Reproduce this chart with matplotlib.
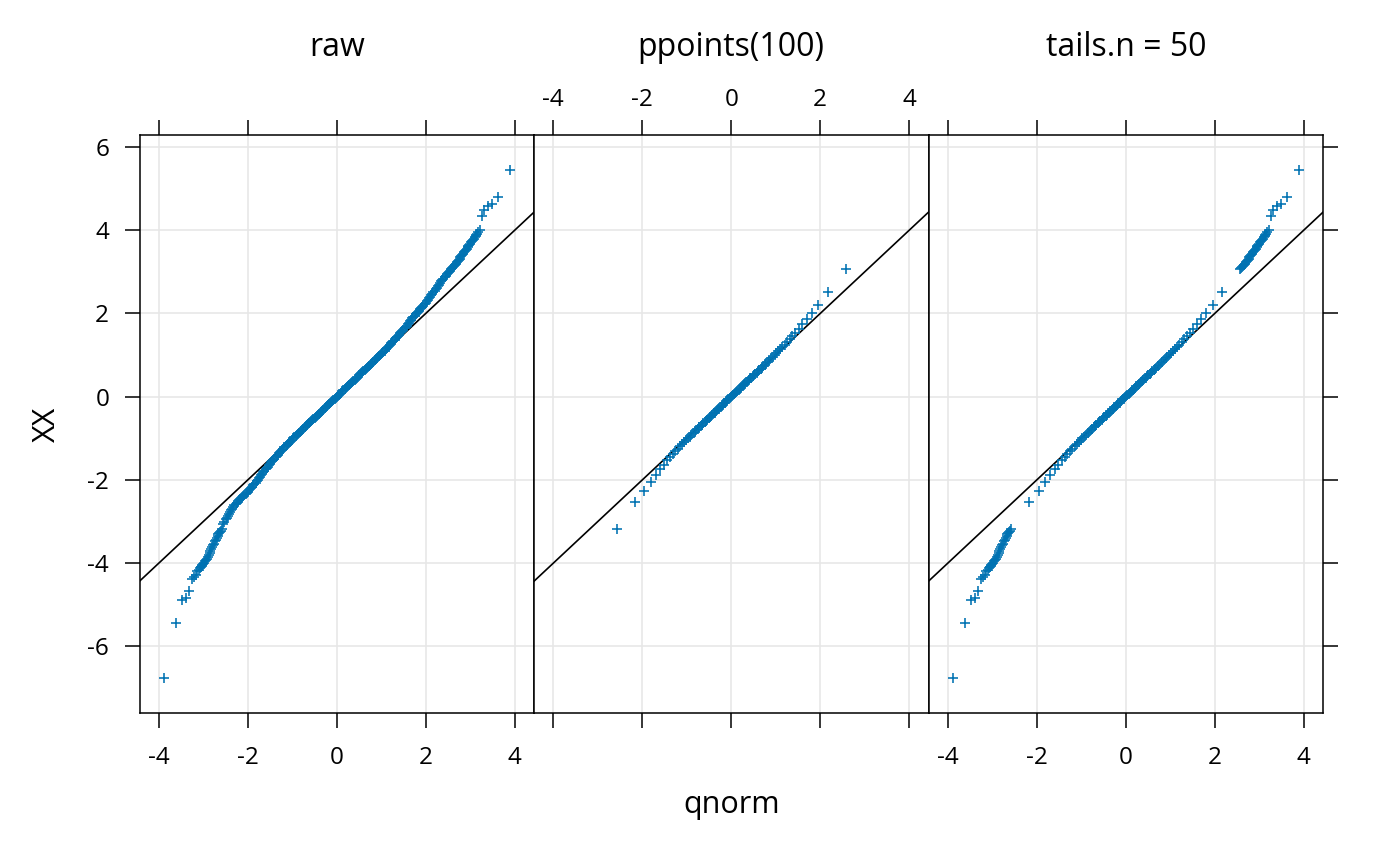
import matplotlib
matplotlib.use("Agg")
from matplotlib import pyplot as plt

plt.rcParams['font.family'] = ['Open Sans', 'DejaVu Sans']
plt.rcParams['axes.unicode_minus'] = False

# 50 lowest / highest sample values (shared by "raw" and "tails.n = 50")
lower_tail_x = [-3.89, -3.615, -3.48, -3.39, -3.32, -3.26, -3.21, -3.17, -3.14,
                -3.105, -3.08, -3.06, -3.04, -3.02, -3.00, -2.98, -2.96, -2.94,
                -2.92, -2.90, -2.88, -2.86, -2.84, -2.82, -2.80, -2.78, -2.76,
                -2.74, -2.72, -2.70, -2.68, -2.66, -2.64, -2.62, -2.60, -2.58]
lower_tail_y = [-6.76, -5.44, -4.89, -4.85, -4.67, -4.38, -4.34, -4.28, -4.19,
                -4.17, -4.12, -4.09, -4.06, -4.04, -4.02, -3.99, -3.96, -3.92,
                -3.89, -3.85, -3.80, -3.75, -3.71, -3.66, -3.62, -3.57, -3.53,
                -3.48, -3.44, -3.39, -3.35, -3.31, -3.28, -3.25, -3.22, -3.18]

upper_tail_x = [2.58, 2.60, 2.62, 2.64, 2.66, 2.68, 2.70, 2.72, 2.74, 2.76,
                2.78, 2.80, 2.82, 2.84, 2.86, 2.88, 2.90, 2.92, 2.94, 2.96,
                2.98, 3.00, 3.02, 3.04, 3.06, 3.08, 3.10, 3.12, 3.14, 3.16,
                3.18, 3.21, 3.26, 3.32, 3.39, 3.48, 3.615, 3.89]
upper_tail_y = [3.06, 3.09, 3.12, 3.14, 3.17, 3.20, 3.23, 3.26, 3.29, 3.32,
                3.35, 3.38, 3.41, 3.44, 3.47, 3.50, 3.53, 3.56, 3.59, 3.62,
                3.65, 3.68, 3.71, 3.74, 3.77, 3.80, 3.83, 3.86, 3.89, 3.92,
                3.97, 4.01, 4.34, 4.48, 4.59, 4.64, 4.79, 5.44]

# body of the raw sample (dense band)
raw_mid_x = [
    -2.550, -2.525, -2.500, -2.475, -2.450, -2.425, -2.400, -2.375, -2.350, -2.325,
    -2.300, -2.275, -2.250, -2.225, -2.200, -2.175, -2.150, -2.125, -2.100, -2.075,
    -2.050, -2.025, -2.000, -1.975, -1.950, -1.925, -1.900, -1.875, -1.850, -1.825,
    -1.800, -1.775, -1.750, -1.725, -1.700, -1.675, -1.650, -1.625, -1.600, -1.575,
    -1.550, -1.525, -1.500, -1.475, -1.450, -1.425, -1.400, -1.375, -1.350, -1.325,
    -1.300, -1.275, -1.250, -1.225, -1.200, -1.175, -1.150, -1.125, -1.100, -1.075,
    -1.050, -1.025, -1.000, -0.975, -0.950, -0.925, -0.900, -0.875, -0.850, -0.825,
    -0.800, -0.775, -0.750, -0.725, -0.700, -0.675, -0.650, -0.625, -0.600, -0.575,
    -0.550, -0.525, -0.500, -0.475, -0.450, -0.425, -0.400, -0.375, -0.350, -0.325,
    -0.300, -0.275, -0.250, -0.225, -0.200, -0.175, -0.150, -0.125, -0.100, -0.075,
    -0.050, -0.025, 0.000, 0.025, 0.050, 0.075, 0.100, 0.125, 0.150, 0.175,
    0.200, 0.225, 0.250, 0.275, 0.300, 0.325, 0.350, 0.375, 0.400, 0.425,
    0.450, 0.475, 0.500, 0.525, 0.550, 0.575, 0.600, 0.625, 0.650, 0.675,
    0.700, 0.725, 0.750, 0.775, 0.800, 0.825, 0.850, 0.875, 0.900, 0.925,
    0.950, 0.975, 1.000, 1.025, 1.050, 1.075, 1.100, 1.125, 1.150, 1.175,
    1.200, 1.225, 1.250, 1.275, 1.300, 1.325, 1.350, 1.375, 1.400, 1.425,
    1.450, 1.475, 1.500, 1.525, 1.550, 1.575, 1.600, 1.625, 1.650, 1.675,
    1.700, 1.725, 1.750, 1.775, 1.800, 1.825, 1.850, 1.875, 1.900, 1.925,
    1.950, 1.975, 2.000, 2.025, 2.050, 2.075, 2.100, 2.125, 2.150, 2.175,
    2.200, 2.225, 2.250, 2.275, 2.300, 2.325, 2.350, 2.375, 2.400, 2.425,
    2.450, 2.475, 2.500, 2.525, 2.550]
raw_mid_y = [
    -3.05, -3.00, -2.95, -2.905, -2.86, -2.815, -2.77, -2.73, -2.69, -2.65,
    -2.61, -2.58, -2.55, -2.52, -2.49, -2.46, -2.43, -2.405, -2.38, -2.355,
    -2.33, -2.305, -2.28, -2.25, -2.22, -2.19, -2.16, -2.13, -2.10, -2.065,
    -2.03, -1.995, -1.96, -1.925, -1.89, -1.855, -1.82, -1.785, -1.75, -1.715,
    -1.68, -1.645, -1.61, -1.58, -1.55, -1.52, -1.49, -1.455, -1.42, -1.39,
    -1.36, -1.335, -1.31, -1.28, -1.25, -1.22, -1.19, -1.165, -1.14, -1.115,
    -1.09, -1.06, -1.03, -1.00, -0.98, -0.95, -0.92, -0.895, -0.87, -0.845,
    -0.82, -0.795, -0.77, -0.74, -0.71, -0.685, -0.66, -0.635, -0.61, -0.585,
    -0.56, -0.535, -0.51, -0.485, -0.46, -0.435, -0.41, -0.385, -0.36, -0.335,
    -0.31, -0.28, -0.25, -0.225, -0.20, -0.175, -0.15, -0.125, -0.10, -0.075,
    -0.05, -0.025, 0.00, 0.025, 0.05, 0.075, 0.10, 0.125, 0.15, 0.175,
    0.20, 0.23, 0.26, 0.285, 0.31, 0.335, 0.36, 0.385, 0.41, 0.435,
    0.46, 0.485, 0.51, 0.535, 0.56, 0.585, 0.61, 0.635, 0.66, 0.69,
    0.72, 0.745, 0.77, 0.795, 0.82, 0.845, 0.87, 0.895, 0.92, 0.95,
    0.98, 1.005, 1.03, 1.055, 1.08, 1.11, 1.14, 1.165, 1.19, 1.22,
    1.25, 1.28, 1.31, 1.34, 1.37, 1.40, 1.43, 1.46, 1.49, 1.52,
    1.55, 1.58, 1.61, 1.645, 1.68, 1.71, 1.74, 1.775, 1.81, 1.845,
    1.88, 1.915, 1.95, 1.98, 2.01, 2.04, 2.07, 2.10, 2.13, 2.16,
    2.19, 2.225, 2.26, 2.295, 2.33, 2.365, 2.40, 2.44, 2.48, 2.515,
    2.55, 2.585, 2.62, 2.655, 2.69, 2.73, 2.77, 2.805, 2.84, 2.875,
    2.91, 2.94, 2.97, 3.00, 3.03]

# sample quantiles at ppoints(100)
pp_x = [-2.576, -2.170, -1.960, -1.812, -1.695, -1.598, -1.514, -1.440, -1.372, -1.311,
        -1.254, -1.200, -1.150, -1.103, -1.058, -1.015, -0.974, -0.935, -0.896, -0.860,
        -0.824, -0.789, -0.755, -0.722, -0.690, -0.659, -0.628, -0.598, -0.568, -0.539,
        -0.510, -0.482, -0.454, -0.426, -0.399, -0.372, -0.345, -0.319, -0.292, -0.266,
        -0.240, -0.215, -0.189, -0.164, -0.138, -0.113, -0.088, -0.063, -0.038, -0.013,
        0.013, 0.038, 0.063, 0.088, 0.113, 0.138, 0.164, 0.189, 0.215, 0.240,
        0.266, 0.292, 0.319, 0.345, 0.372, 0.399, 0.426, 0.454, 0.482, 0.510,
        0.539, 0.568, 0.598, 0.628, 0.659, 0.690, 0.722, 0.755, 0.789, 0.824,
        0.860, 0.896, 0.935, 0.974, 1.015, 1.058, 1.103, 1.150, 1.200, 1.254,
        1.311, 1.372, 1.440, 1.514, 1.598, 1.695, 1.812, 1.960, 2.170, 2.576]
pp_y = [-3.17, -2.52, -2.26, -2.04, -1.88, -1.75, -1.63, -1.53, -1.45, -1.37,
        -1.31, -1.25, -1.19, -1.14, -1.09, -1.04, -1.00, -0.96, -0.92, -0.88,
        -0.84, -0.80, -0.77, -0.73, -0.70, -0.67, -0.64, -0.61, -0.58, -0.55,
        -0.52, -0.49, -0.46, -0.43, -0.40, -0.38, -0.35, -0.32, -0.29, -0.27,
        -0.24, -0.22, -0.19, -0.16, -0.14, -0.11, -0.09, -0.06, -0.04, -0.01,
        0.01, 0.04, 0.07, 0.09, 0.12, 0.14, 0.17, 0.19, 0.22, 0.25,
        0.27, 0.30, 0.33, 0.35, 0.38, 0.41, 0.44, 0.46, 0.49, 0.52,
        0.55, 0.58, 0.61, 0.64, 0.67, 0.70, 0.74, 0.77, 0.81, 0.84,
        0.88, 0.92, 0.96, 1.00, 1.04, 1.09, 1.14, 1.19, 1.25, 1.31,
        1.38, 1.45, 1.53, 1.62, 1.74, 1.87, 2.02, 2.20, 2.51, 3.07]

line_intercept = 0.0
line_slope = 1.0

titles = ["raw", "ppoints(100)", "tails.n = 50"]
panels = [
    (lower_tail_x + raw_mid_x + upper_tail_x, lower_tail_y + raw_mid_y + upper_tail_y),
    (pp_x, pp_y),
    (lower_tail_x + pp_x[1:-1] + upper_tail_x, lower_tail_y + pp_y[1:-1] + upper_tail_y),
]

W, H = 1400, 866
fig = plt.figure(figsize=(W / 100, H / 100), dpi=100)

left0, right0 = 139.5, 534.0
pw = right0 - left0
top, bottom = 135.0, 713.3
point_col = "#0072B2"

for i, (title, (xs, ys)) in enumerate(zip(titles, panels)):
    ax = fig.add_axes([(left0 + i * pw) / W, (H - bottom) / H, pw / W, (bottom - top) / H])
    ax.set_xlim(-4.435, 4.435)
    ax.set_ylim(-7.61, 6.29)
    ax.set_xticks([-4, -2, 0, 2, 4])
    ax.set_yticks([-6, -4, -2, 0, 2, 4, 6])
    ax.grid(True, color="#e6e6e6", lw=1.1)
    ax.set_axisbelow(True)

    ax.axline((0, line_intercept), slope=line_slope, color="black", lw=1.2, zorder=2)
    ax.plot(xs, ys, ls="none", marker="+", ms=7.6, mew=1.15, color=point_col, zorder=3)

    for sp in ax.spines.values():
        sp.set_linewidth(1.1)
        sp.set_color("black")

    ax.tick_params(axis="both", direction="out", length=10.8, width=1.1,
                   labelsize=17.5, colors="black")
    ax.tick_params(axis="x", top=True, bottom=True,
                   labeltop=(i == 1), labelbottom=(i != 1),
                   pad=(6 if i == 1 else 13))
    ax.tick_params(axis="y", left=(i == 0), right=(i == 2),
                   labelleft=(i == 0), labelright=False, pad=11)

    fig.text((left0 + (i + 0.5) * pw) / W, (H - 47) / H, title,
             ha="center", va="center", fontsize=23)

fig.text((left0 + 1.5 * pw) / W, (H - 805) / H, "qnorm",
         ha="center", va="center", fontsize=22)
fig.text(46.7 / W, (H - 424) / H, "XX", rotation=90,
         ha="center", va="center", fontsize=22)

fig.savefig("out.png", dpi=100)
